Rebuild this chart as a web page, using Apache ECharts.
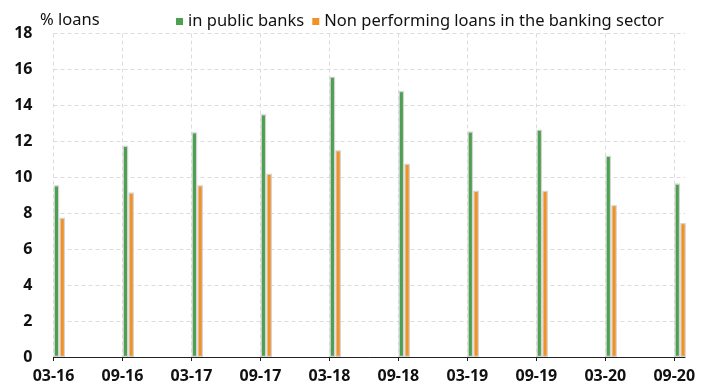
<!DOCTYPE html>
<html>
<head>
<meta charset="utf-8">
<script src="https://cdn.jsdelivr.net/npm/echarts@6/dist/echarts.min.js"></script>
<style>
  html, body { margin: 0; padding: 0; background: #fff; }
  #chart { width: 714px; height: 387px; }
</style>
</head>
<body>
<div id="chart"></div>
<script>
// ----------data----------
const categories = ['03-16', '09-16', '03-17', '09-17', '03-18', '09-18', '03-19', '09-19', '03-20', '09-20'];
const publicBanks = [9.55, 11.75, 12.5, 13.5, 15.6, 14.8, 12.55, 12.65, 11.2, 9.65];
const bankingSector = [7.75, 9.15, 9.55, 10.2, 11.5, 10.75, 9.25, 9.25, 8.45, 7.45];
const yTicks = [0, 2, 4, 6, 8, 10, 12, 14, 16, 18];
// ------------------------

// 資料點略偏右 (月中)
const shift = 0.085;
const toPoints = (arr) => arr.map((v, i) => [i + shift, v]);
const tickValues = categories.map((_, i) => i);

const FONT = '"Noto Sans", "Open Sans", sans-serif';

const chart = echarts.init(document.getElementById('chart'));

const option = {
  animation: false,
  backgroundColor: '#fff',
  textStyle: { fontFamily: FONT },
  title: {
    text: '% loans',
    left: 35,
    top: 5,
    textStyle: { fontSize: 16.5, fontWeight: 'normal', color: '#111', lineHeight: 20, fontFamily: FONT },
  },
  legend: {
    left: 171,
    top: 8,
    icon: 'rect',
    itemWidth: 7,
    itemHeight: 7,
    itemGap: 8,
    itemStyle: { borderWidth: 0 },
    textStyle: { fontSize: 16.5, color: '#111', fontFamily: FONT },
    data: ['in public banks', 'Non performing loans in the banking sector'],
  },
  grid: { left: 53.5, right: 29, top: 33.5, bottom: 30, containLabel: false },
  xAxis: {
    type: 'value',
    min: 0,
    max: 9.155,
    interval: 1,
    axisLine: { show: true, lineStyle: { color: '#222', width: 1 } },
    axisTick: { show: true, length: 4, customValues: tickValues, lineStyle: { color: '#222' } },
    axisLabel: {
      customValues: tickValues,
      margin: 11,
      fontSize: 16,
      fontWeight: 'bold',
      color: '#111',
      fontFamily: FONT,
      formatter: (v) => (Number.isInteger(v) ? categories[v] : ''),
    },
    splitLine: {
      show: true,
      lineStyle: {
        type: [4, 3],
        color: tickValues.map(() => '#dcdcdc').concat(['rgba(0,0,0,0)']),
      },
    },
  },
  yAxis: {
    type: 'value',
    min: yTicks[0],
    max: yTicks[yTicks.length - 1],
    interval: 2,
    axisLine: { show: false },
    axisTick: { show: false },
    axisLabel: {
      margin: 21,
      fontSize: 16,
      fontWeight: 'bold',
      color: '#111',
      fontFamily: FONT,
    },
    splitLine: { show: true, lineStyle: { type: [4, 3], color: '#dcdcdc' } },
  },
  series: [
    {
      name: 'in public banks',
      type: 'bar',
      barWidth: 5.5,
      barGap: '5%',
      data: toPoints(publicBanks),
      itemStyle: { color: '#4ba14f', borderColor: '#d4d4d4', borderWidth: 1.2 },
    },
    {
      name: 'Non performing loans in the banking sector',
      type: 'bar',
      barWidth: 5.5,
      barGap: '5%',
      data: toPoints(bankingSector),
      itemStyle: { color: '#f39224', borderColor: '#d4d4d4', borderWidth: 1.2 },
    },
  ],
};

chart.setOption(option);
</script>
</body>
</html>
